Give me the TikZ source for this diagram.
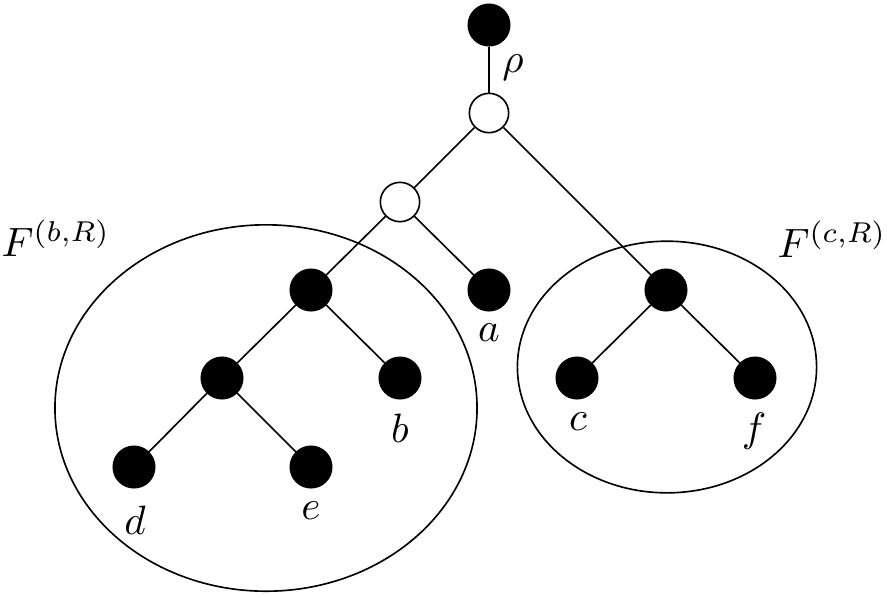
\documentclass[tikz,border=0pt]{standalone}
\begin{document}
\begin{tikzpicture}[x=0.244pt,y=-0.244pt,
  bdot/.style={circle,fill=black,draw=black,minimum size=10.1pt,inner sep=0pt},
  wdot/.style={circle,fill=white,draw=black,minimum size=9.6pt,inner sep=0pt},
  lab/.style={inner sep=0pt}]
\useasboundingbox (0,0) rectangle (889,597);
% subtree regions
\draw (266,408) ellipse [x radius=51.5pt, y radius=44.7pt];
\draw (667,367) ellipse [x radius=36.5pt, y radius=30.7pt];
% nodes
\node[bdot] (r) at (489,25) {};
\node[wdot] (u) at (489,113) {};
\node[wdot] (v) at (400,202) {};
\node[bdot] (w) at (311,290) {};
\node[bdot] (a) at (489,290) {};
\node[bdot] (x) at (666,290) {};
\node[bdot] (y) at (222,378) {};
\node[bdot] (b) at (400,378) {};
\node[bdot] (c) at (577,378) {};
\node[bdot] (f) at (755,378) {};
\node[bdot] (d) at (134,467) {};
\node[bdot] (e) at (311,467) {};
% edges
\draw (r) -- (u);
\draw (u) -- (v);
\draw (u) -- (x);
\draw (v) -- (w);
\draw (v) -- (a);
\draw (w) -- (y);
\draw (w) -- (b);
\draw (y) -- (d);
\draw (y) -- (e);
\draw (x) -- (c);
\draw (x) -- (f);
% labels
\node[lab] (lr) at (513,68) {$\rho$};
\node[lab] (la) at (489,333) {$a$};
\node[lab] (lb) at (400,428) {$b$};
\node[lab] (lc) at (578,422) {$c$};
\node[lab] (lf) at (754,431) {$f$};
\node[lab] (ld) at (135,520) {$d$};
\node[lab] (le) at (311,511) {$e$};
\node[lab] (F1) at (56,238) {$F^{(b,R)}$};
\node[lab] (F2) at (832,239) {$F^{(c,R)}$};
\end{tikzpicture}
\end{document}
